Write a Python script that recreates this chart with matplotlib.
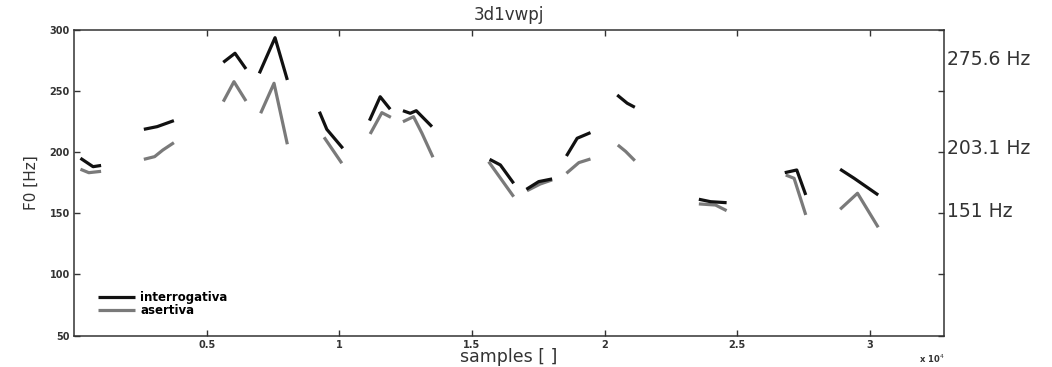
import matplotlib
matplotlib.use("Agg")
import matplotlib.pyplot as plt
import matplotlib.transforms as mtransforms

# F0 contours, one list per voiced segment (x in samples, y in Hz)
inter_x = [[245, 720, 1023],
           [2634, 3136, 3766],
           [5627, 6069, 6484],
           [6986, 7578, 8042],
           [9250, 9529, 10133],
           [11137, 11541, 11918],
           [12398, 12673, 12900, 13492],
           [15666, 16070, 16572],
           [17050, 17515, 18021],
           [18560, 18964, 19466],
           [20474, 20851, 21138],
           [23551, 23993, 24597],
           [26788, 27240, 27580],
           [28875, 29404, 30310]]
inter_y = [[194.9, 188.0, 189.0],
           [218.5, 220.7, 225.6],
           [273.2, 280.6, 267.8],
           [264.2, 293.3, 258.8],
           [232.9, 218.5, 203.0],
           [225.6, 245.1, 234.9],
           [233.7, 231.6, 233.7, 220.7],
           [194.0, 189.4, 174.4],
           [169.5, 175.8, 178.0],
           [196.7, 211.2, 215.8],
           [246.5, 239.8, 236.5],
           [161.4, 159.4, 158.6],
           [183.1, 185.3, 164.9],
           [185.9, 178.5, 164.9]]

aser_x = [[245, 560, 1023],
          [2634, 3040, 3350, 3766],
          [5627, 6030, 6484],
          [7036, 7540, 8042],
          [9427, 10095],
          [11163, 11604, 11944],
          [12398, 12798, 13115, 13530],
          [15628, 16572],
          [17075, 17577, 18021],
          [18560, 19027, 19466],
          [20497, 20790, 21138],
          [23551, 24178, 24597],
          [26826, 27140, 27580],
          [28875, 29530, 30310]]
aser_y = [[185.9, 183.1, 184.2],
          [194.0, 196.2, 201.6, 207.6],
          [241.1, 257.4, 241.6],
          [231.6, 256.1, 206.3],
          [212.0, 190.8],
          [214.7, 232.1, 228.3],
          [224.7, 228.8, 215.3, 195.7],
          [192.1, 163.5],
          [168.4, 173.9, 177.2],
          [182.6, 191.3, 194.3],
          [205.7, 200.5, 192.9],
          [157.6, 156.7, 152.1],
          [181.2, 178.5, 148.6],
          [153.2, 166.3, 138.5]]

# reference frequencies written on the right side
ref_values = [275.6, 203.1, 151]
ref_labels = ["275.6 Hz", "203.1 Hz", "151 Hz"]

x_ticks = [5000, 10000, 15000, 20000, 25000, 30000]
x_tick_labels = ["0.5", "1", "1.5", "2", "2.5", "3"]
y_ticks = [50, 100, 150, 200, 250, 300]

black = "#111111"
grey = "#7a7a7a"

fig = plt.figure(figsize=(10.52, 3.67), dpi=100)
ax = fig.add_axes([0.0703, 0.0853, 0.8273, 0.8343])

for xs, ys in zip(aser_x, aser_y):
    h_aser, = ax.plot(xs, ys, color=grey, lw=2.3, solid_capstyle="butt", zorder=2)
for xs, ys in zip(inter_x, inter_y):
    h_inter, = ax.plot(xs, ys, color=black, lw=2.3, solid_capstyle="butt", zorder=3)

ax.set_xlim(0, 32800)
ax.set_ylim(50, 300)
ax.set_xticks(x_ticks)
ax.set_xticklabels(x_tick_labels)
ax.set_yticks(y_ticks)
ax.tick_params(direction="in", top=True, right=True, length=4, width=1,
               labelsize=7, pad=3, color="#333333")
for lab in ax.get_xticklabels() + ax.get_yticklabels():
    lab.set_fontweight("bold")
    lab.set_color("#333333")
for sp in ax.spines.values():
    sp.set_color("#333333")
    sp.set_linewidth(1.1)

ax.set_title("3d1vwpj", fontsize=12, color="#333333", pad=7)
ax.set_xlabel("samples [ ]", fontsize=12.5, color="#333333")
ax.xaxis.set_label_coords(0.5, -0.04)
ax.set_ylabel("F0 [Hz]", fontsize=11, color="#333333", labelpad=8)

ax.text(1.0, -0.055, "x 10$^{4}$", transform=ax.transAxes, ha="right", va="top",
        fontsize=6, fontweight="bold", color="#333333")

trans = mtransforms.blended_transform_factory(ax.transAxes, ax.transData)
for v, s in zip(ref_values, ref_labels):
    ax.text(1.003, v, s, transform=trans, ha="left", va="center",
            fontsize=13.5, color="#333333")

ax.legend([h_inter, h_aser], ["interrogativa", "asertiva"], loc="lower left",
          bbox_to_anchor=(0.015, 0.025), frameon=False,
          handlelength=3.2, handletextpad=0.4, labelspacing=0.05,
          prop={"weight": "bold", "size": 8.5})

fig.savefig("out.png", dpi=100)
